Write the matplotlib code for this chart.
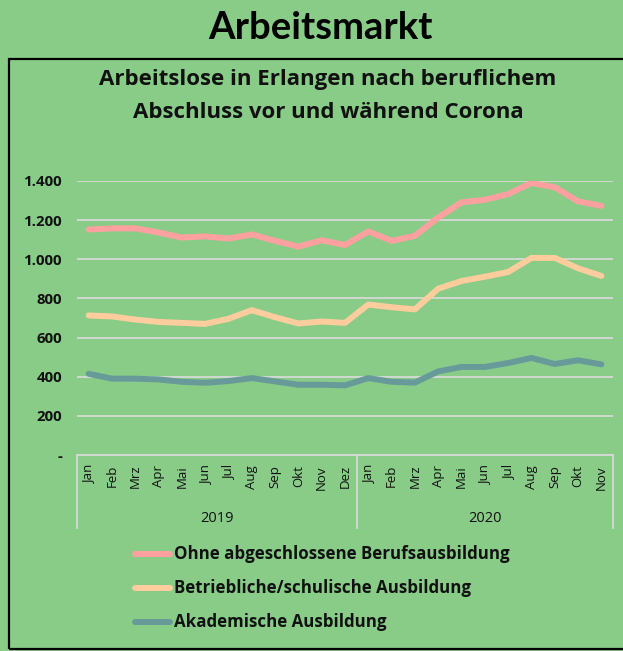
import matplotlib
matplotlib.use("Agg")
import matplotlib.pyplot as plt
from matplotlib.patches import Rectangle
from matplotlib.lines import Line2D
from matplotlib.ticker import FixedLocator, FuncFormatter

months = ["Jan", "Feb", "Mrz", "Apr", "Mai", "Jun", "Jul", "Aug", "Sep", "Okt", "Nov", "Dez",
          "Jan", "Feb", "Mrz", "Apr", "Mai", "Jun", "Jul", "Aug", "Sep", "Okt", "Nov"]
years = ["2019", "2020"]
year_counts = [12, 11]

ohne = [1152, 1158, 1158, 1137, 1111, 1117, 1106, 1127, 1094, 1065, 1097, 1073,
        1142, 1094, 1120, 1214, 1291, 1304, 1333, 1390, 1368, 1296, 1273]
betrieb = [713, 708, 692, 680, 675, 670, 696, 740, 704, 672, 682, 675,
           769, 755, 744, 850, 889, 911, 935, 1007, 1007, 954, 915]
akad = [415, 390, 390, 386, 374, 369, 378, 393, 376, 359, 359, 356,
        393, 374, 370, 427, 450, 450, 470, 496, 465, 484, 463]

series_names = ["Ohne abgeschlossene Berufsausbildung",
                "Betriebliche/schulische Ausbildung",
                "Akademische Ausbildung"]
series_colors = ["#FFA0A0", "#FFCC9E", "#699A9A"]
yticks = [0, 200, 400, 600, 800, 1000, 1200, 1400]

BG = "#88CC88"
GRID = "#D6DAD6"
TXT = "#111111"
LATO = ["Lato", "DejaVu Sans"]
OPEN = ["Open Sans", "DejaVu Sans"]
plt.rcParams["font.family"] = OPEN

W, H = 623, 651
fig = plt.figure(figsize=(W / 100, H / 100), dpi=100, facecolor=BG)

def fx(px):
    return px / W

def fy(py):
    return 1 - py / H

# outer box
fig.add_artist(Rectangle((fx(9), fy(649)), fx(640) - fx(9), fy(59) - fy(649),
                         transform=fig.transFigure, fill=False, edgecolor="black", lw=1.6))

fig.text(fx(320), fy(28), "Arbeitsmarkt", ha="center", va="center", fontsize=27.5,
         fontweight="bold", family=LATO, color="black")
fig.text(fx(328), fy(80), "Arbeitslose in Erlangen nach beruflichem", ha="center", va="center",
         fontsize=16, fontweight="bold", color=TXT)
fig.text(fx(328), fy(113), "Abschluss vor und während Corona", ha="center", va="center",
         fontsize=16, fontweight="bold", color=TXT)

left, right, top, bottom = 77, 613, 181, 455
ax = fig.add_axes([fx(left), fy(bottom), fx(right) - fx(left), fy(top) - fy(bottom)])
ax.set_facecolor("none")
n = len(months)
x = list(range(n))
LW = 4.3
for vals, c in zip([ohne, betrieb, akad], series_colors):
    ax.plot(x, vals, color=c, lw=LW, solid_capstyle="round", solid_joinstyle="round", zorder=3)

ax.set_xlim(-0.5, n - 0.5)
ax.set_ylim(0, 1400)
ax.yaxis.set_major_locator(FixedLocator(yticks))
ax.yaxis.set_major_formatter(FuncFormatter(
    lambda v, p: "-" if v == 0 else f"{int(v):,}".replace(",", ".")))
ax.tick_params(axis="y", length=0, pad=10.8, labelsize=10.8, labelcolor=TXT)
for lab in ax.get_yticklabels():
    lab.set_fontweight("bold")
ax.set_xticks([])
ax.grid(axis="y", color=GRID, lw=1.3)
ax.set_axisbelow(True)
for s in ["left", "right", "top"]:
    ax.spines[s].set_visible(False)
ax.spines["bottom"].set_color(GRID)
ax.spines["bottom"].set_linewidth(1.3)

# category axis labels
axh = bottom - top
for i, m in enumerate(months):
    ax.text(i, -10 / axh, m, transform=ax.get_xaxis_transform(), rotation=90,
            ha="center", va="top", fontsize=9.5, color=TXT)
ylow = -(528 - bottom) / axh
bounds = [-0.5]
acc = -0.5
for c in year_counts:
    acc += c
    bounds.append(acc)
for b in bounds:
    ax.add_line(Line2D([b, b], [0, ylow], transform=ax.get_xaxis_transform(),
                       color=GRID, lw=1.3, clip_on=False))
for k, yr in enumerate(years):
    ax.text((bounds[k] + bounds[k + 1]) / 2, -(518 - bottom) / axh, yr,
            transform=ax.get_xaxis_transform(), ha="center", va="center",
            fontsize=10.5, color=TXT)

# legend
for j, (name, c) in enumerate(zip(series_names, series_colors)):
    yy = fy(554 + 34 * j)
    fig.add_artist(Line2D([fx(135), fx(170)], [yy, yy], transform=fig.transFigure,
                          color=c, lw=LW, solid_capstyle="round"))
    fig.text(fx(174), yy, name, ha="left", va="center", fontsize=12.2,
             fontweight="bold", color=TXT)

fig.savefig("out.png", dpi=100, facecolor=BG)
